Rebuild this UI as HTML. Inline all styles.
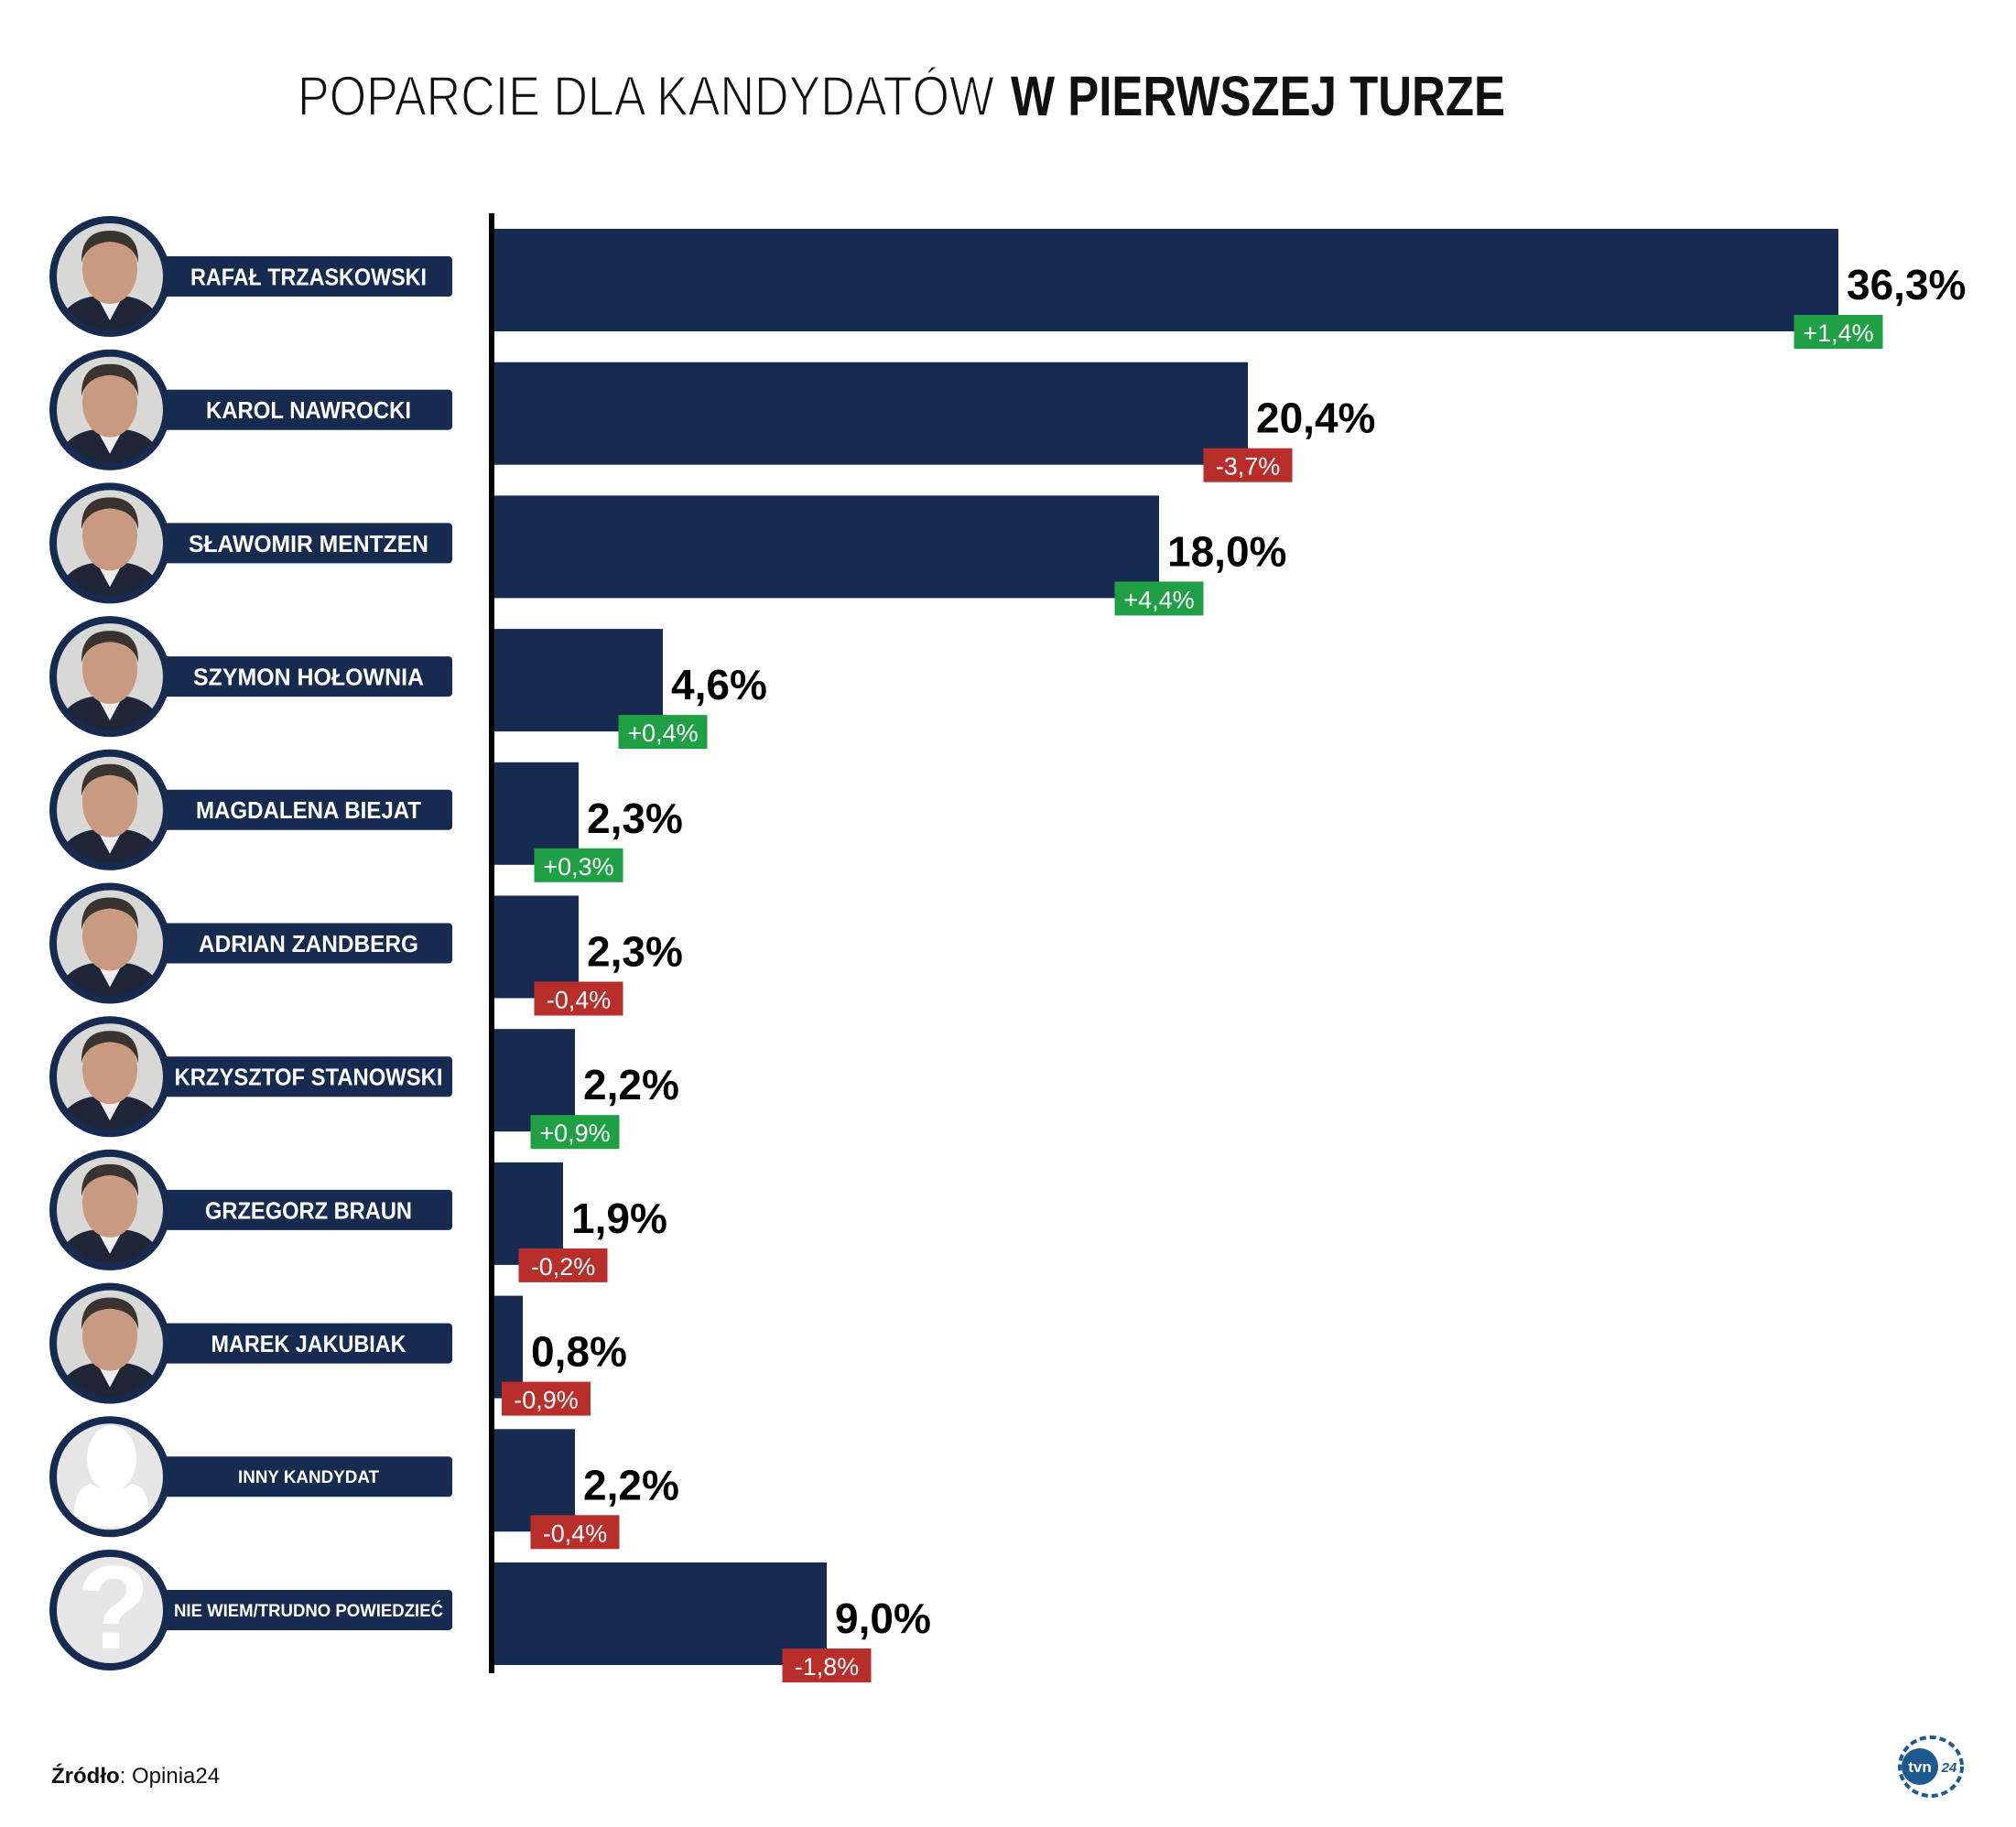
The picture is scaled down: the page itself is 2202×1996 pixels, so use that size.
<!DOCTYPE html>
<html><head><meta charset="utf-8"><style>html,body{margin:0;padding:0;background:#fff}svg{display:block}</style></head>
<body>
<svg width="2202" height="1996" viewBox="0 0 2202 1996" xmlns="http://www.w3.org/2000/svg" font-family="'Liberation Sans', sans-serif">
<defs>
<clipPath id="c"><circle cx="0" cy="0" r="60"/></clipPath>
<g id="face">
  <circle cx="0" cy="0" r="60" fill="#d8d8d6"/>
  <g clip-path="url(#c)">
    <path d="M-62 70 Q-55 28 -20 22 L20 22 Q55 28 62 70 Z" fill="#1f2637"/>
    <path d="M-14 22 L0 48 L14 22 Z" fill="#eeeeee"/>
    <ellipse cx="0" cy="-8" rx="30" ry="38" fill="#c99a80"/>
    <path d="M-31 -15 Q-32 -50 0 -50 Q32 -50 31 -15 Q26 -36 0 -38 Q-26 -36 -31 -15 Z" fill="#3a3431"/>
  </g>
</g>
</defs>
<rect width="2202" height="1996" fill="#fff"/>
<text x="325" y="126" font-size="61" fill="#111" stroke="#fff" stroke-width="1.6" textLength="761" lengthAdjust="spacingAndGlyphs">POPARCIE DLA KANDYDATÓW</text>
<text x="1104" y="126" font-size="61" font-weight="bold" fill="#111" textLength="540" lengthAdjust="spacingAndGlyphs">W PIERWSZEJ TURZE</text>
<rect x="534" y="233" width="6" height="1595" fill="#000"/>
<g id="rows"></g>
<text x="56" y="1948" font-size="24" fill="#111"><tspan font-weight="bold">Źródło</tspan>: Opinia24</text>
<g transform="translate(2105,1930)">
  <ellipse cx="4" cy="0" rx="34" ry="32" fill="none" stroke="#1d5a92" stroke-width="4" stroke-dasharray="7 4"/>
  <circle cx="-8" cy="0" r="20" fill="#1d5a92"/>
  <text x="-8" y="6" font-size="17" font-weight="bold" fill="#fff" text-anchor="middle">tvn</text>
  <text x="24" y="6" font-size="15" font-weight="bold" font-style="italic" fill="#1d5a92" text-anchor="middle">24</text>
</g>
</svg>
<script>
var d=[["RAFAŁ TRZASKOWSKI",2008,"36,3%","+1,4%",1,258,26],
["KAROL NAWROCKI",1363,"20,4%","-3,7%",0,224,26],
["SŁAWOMIR MENTZEN",1266,"18,0%","+4,4%",1,262,26],
["SZYMON HOŁOWNIA",724,"4,6%","+0,4%",1,252,26],
["MAGDALENA BIEJAT",632,"2,3%","+0,3%",1,246,26],
["ADRIAN ZANDBERG",632,"2,3%","-0,4%",0,240,26],
["KRZYSZTOF STANOWSKI",628,"2,2%","+0,9%",1,293,26],
["GRZEGORZ BRAUN",615,"1,9%","-0,2%",0,226,26],
["MAREK JAKUBIAK",571,"0,8%","-0,9%",0,213,26],
["INNY KANDYDAT",628,"2,2%","-0,4%",0,154,19],
["NIE WIEM/TRUDNO POWIEDZIEĆ",903,"9,0%","-1,8%",0,294,19]];
var s="",N="http://www.w3.org/2000/svg";
d.forEach(function(r,i){
 var t=250+145.7*i, cy=t+52, b=t+112;
 s+='<rect x="540" y="'+t+'" width="'+(r[1]-540)+'" height="112" fill="#172a4f"/>';
 s+='<text x="'+(r[1]+9)+'" y="'+(t+77)+'" font-size="46" font-weight="bold" fill="#000">'+r[2]+'</text>';
 var bl=Math.max(r[1]-48.5,548);
 s+='<rect x="'+bl+'" y="'+(b-18)+'" width="97" height="37" fill="'+(r[4]?"#1fa045":"#b82e2a")+'"/>';
 s+='<text x="'+(bl+48.5)+'" y="'+(b+11)+'" font-size="27" fill="#fff" text-anchor="middle">'+r[3]+'</text>';
 s+='<rect x="150" y="'+(cy-22)+'" width="344" height="44" rx="4" fill="#172a4f"/>';
 s+='<text x="337" y="'+(cy+r[6]*0.36)+'" font-size="'+r[6]+'" font-weight="bold" fill="#fff" text-anchor="middle" textLength="'+r[5]+'" lengthAdjust="spacingAndGlyphs">'+r[0]+'</text>';
 if(i<9){
  s+='<use href="#face" transform="translate(120,'+cy+')"/>';
 } else if(i==9){
  s+='<circle cx="120" cy="'+cy+'" r="60" fill="#e6e6e6"/><ellipse cx="122" cy="'+(cy-20)+'" rx="27" ry="36" fill="#fff"/><path d="M82 '+(cy+55)+' Q78 '+(cy+10)+' 100 '+(cy+8)+' Q122 '+(cy+22)+' 144 '+(cy+8)+' Q166 '+(cy+10)+' 162 '+(cy+55)+' Z" fill="#fff"/>';
 } else {
  s+='<circle cx="120" cy="'+cy+'" r="60" fill="#e6e6e6"/><text x="124" y="'+(cy+42)+'" font-size="130" font-weight="bold" fill="#fff" text-anchor="middle">?</text>';
 }
 s+='<circle cx="120" cy="'+cy+'" r="62" fill="none" stroke="#172a4f" stroke-width="8"/>';
});
var g=document.getElementById("rows");
var tmp=new DOMParser().parseFromString('<svg xmlns="'+N+'" xmlns:xlink="http://www.w3.org/1999/xlink">'+s+'</svg>','image/svg+xml');
var kids=tmp.documentElement.childNodes;
while(kids.length){g.appendChild(document.importNode(kids[0],true));kids[0].parentNode.removeChild(kids[0]);}
</script>
</body></html>
